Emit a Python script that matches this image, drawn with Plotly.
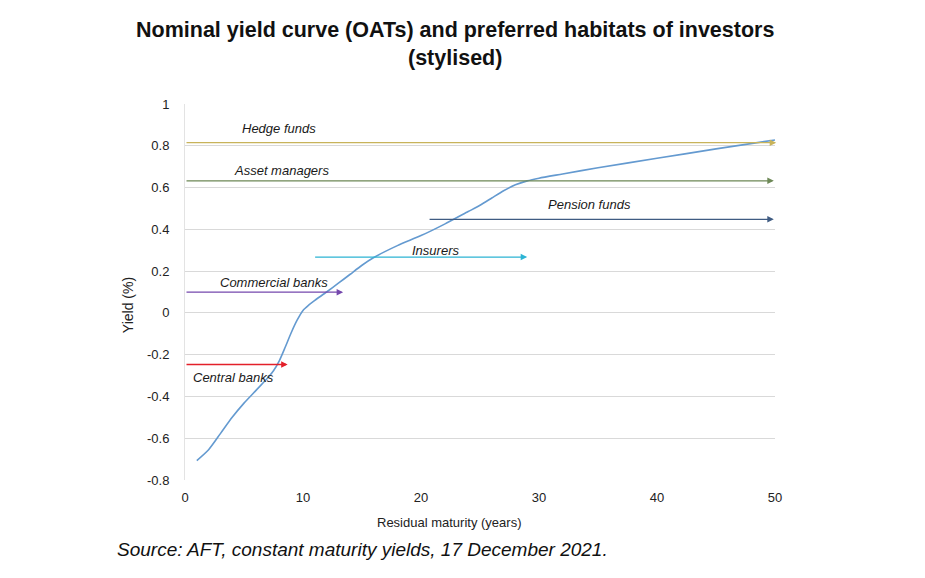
import plotly.graph_objects as go

# Yield curve (stylised)
maturity = [1, 2, 3, 4, 5, 6, 7, 7.5, 8, 8.5, 9, 9.5, 10, 10.5, 11, 12, 13, 14, 15, 16, 18, 20, 22, 24, 25, 26, 27, 28, 29, 30, 32, 35, 40, 45, 50]
yields = [-0.707, -0.655, -0.578, -0.50, -0.432, -0.372, -0.312, -0.277, -0.228, -0.163, -0.095, -0.035, 0.012,
          0.038, 0.06, 0.10, 0.142, 0.185, 0.228, 0.265, 0.322, 0.37, 0.425, 0.485, 0.515, 0.55, 0.585, 0.613, 0.632,
          0.645, 0.665, 0.695, 0.74, 0.785, 0.828]

# Preferred habitats
habitats = ["Hedge funds", "Asset managers", "Pension funds", "Insurers", "Commercial banks", "Central banks"]
hab_start = [0, 0, 20.6, 10.9, 0, 0]
hab_end = [50.1, 49.9, 49.9, 29.0, 13.4, 8.7]
hab_level = [0.815, 0.632, 0.448, 0.267, 0.099, -0.247]
hab_colors = ["#c8b35a", "#6d8856", "#3f5b82", "#2cb4d4", "#7548ad", "#e3202a"]
label_x = [8.0, 8.2, 34.3, 21.2, 7.5, 4.1]
label_y = [0.885, 0.68, 0.52, 0.30, 0.145, -0.31]

y_ticks = [-0.8, -0.6, -0.4, -0.2, 0, 0.2, 0.4, 0.6, 0.8, 1]
y_tick_text = ["-0.8", "-0.6", "-0.4", "-0.2", "0", "0.2", "0.4", "0.6", "0.8", "1"]
x_ticks = [0, 10, 20, 30, 40, 50]

FONT = "Liberation Sans, Arial, sans-serif"

fig = go.Figure()

annotations = []
for name, s, e, lv, c, lx, ly in zip(habitats, hab_start, hab_end, hab_level, hab_colors, label_x, label_y):
    annotations.append(dict(
        x=e, y=lv, ax=s, ay=lv, xref="x", yref="y", axref="x", ayref="y",
        showarrow=True, arrowhead=2, arrowsize=1.0, arrowwidth=1.3, arrowcolor=c, text=""))
    annotations.append(dict(
        x=lx, y=ly, xref="x", yref="y", text="<i>" + name + "</i>", showarrow=False,
        xanchor="center", yanchor="middle",
        font=dict(family=FONT, size=13, color="#1a1a1a")))

fig.add_trace(go.Scatter(
    x=maturity, y=yields, mode="lines",
    line=dict(color="#649ad0", width=1.6, shape="spline", smoothing=0.7),
    showlegend=False, hoverinfo="skip"))

# Titles and notes
annotations.append(dict(
    x=0.4576, y=1.1596, xref="paper", yref="paper", showarrow=False,
    xanchor="center", yanchor="middle",
    text="<b>Nominal yield curve (OATs) and preferred habitats of investors<br>(stylised)</b>",
    font=dict(family=FONT, size=21.5, color="#111111"), align="center"))
annotations.append(dict(
    x=-0.0966, y=0.465, xref="paper", yref="paper", showarrow=False, textangle=-90,
    xanchor="center", yanchor="middle",
    text="Yield (%)", font=dict(family=FONT, size=14, color="#222222")))
annotations.append(dict(
    x=0.449, y=-0.114, xref="paper", yref="paper", showarrow=False,
    xanchor="center", yanchor="middle",
    text="Residual maturity (years)", font=dict(family=FONT, size=13, color="#222222")))
annotations.append(dict(
    x=-0.1186, y=-0.186, xref="paper", yref="paper", showarrow=False,
    xanchor="left", yanchor="middle",
    text="<i>Source: AFT, constant maturity yields, 17 December 2021.</i>",
    font=dict(family=FONT, size=19, color="#111111")))

fig.update_layout(
    width=925, height=578,
    margin=dict(l=185, r=150, t=104, b=98),
    paper_bgcolor="white", plot_bgcolor="white",
    annotations=annotations,
    showlegend=False,
    xaxis=dict(range=[0, 50], tickvals=x_ticks, showgrid=False, zeroline=False,
               showline=False, tickfont=dict(family=FONT, size=13, color="#222222"),
               ticks="", ticklabelstandoff=8, fixedrange=True),
    yaxis=dict(range=[-0.8, 1], tickvals=y_ticks, ticktext=y_tick_text, showgrid=True,
               gridcolor="#d9d9d9", gridwidth=1, zeroline=False, showline=True,
               linecolor="#e3e3e3", linewidth=1,
               tickfont=dict(family=FONT, size=13, color="#222222"), ticks="",
               ticklabelstandoff=12, fixedrange=True),
)

fig.write_html("out.html")
